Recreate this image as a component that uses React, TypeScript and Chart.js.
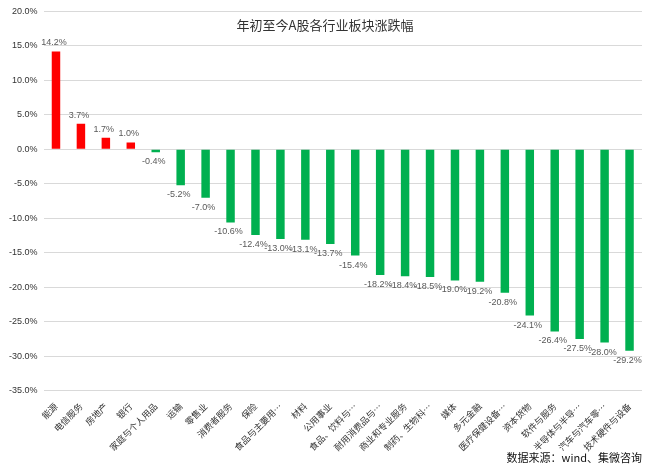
import React, { useEffect, useRef } from "react";
import { Chart, registerables } from "chart.js";

Chart.register(...registerables);

const categories = [
  "能源", "电信服务", "房地产", "银行", "家庭与个人用品", "运输", "零售业", "消费者服务", "保险",
  "食品与主要用…", "材料", "公用事业", "食品、饮料与…", "耐用消费品与…", "商业和专业服务",
  "制药、生物科…", "媒体", "多元金融", "医疗保健设备…", "资本货物", "软件与服务",
  "半导体与半导…", "汽车与汽车零…", "技术硬件与设备",
];
const values = [
  14.2, 3.7, 1.7, 1.0, -0.4, -5.2, -7.0, -10.6, -12.4, -13.0, -13.1, -13.7, -15.4,
  -18.2, -18.4, -18.5, -19.0, -19.2, -20.8, -24.1, -26.4, -27.5, -28.0, -29.2,
];
const titleText = "年初至今A股各行业板块涨跌幅";
const sourceText = "数据来源：wind、集微咨询";

const labelPlugin = {
  id: "valueLabels",
  afterDatasetsDraw(chart: any) {
    const ctx = chart.ctx;
    const meta = chart.getDatasetMeta(0);
    ctx.save();
    ctx.font = "9px 'Liberation Sans', Arial, sans-serif";
    ctx.fillStyle = "#595959";
    ctx.textAlign = "center";
    meta.data.forEach((bar: any, i: number) => {
      const v = values[i];
      const txt = v.toFixed(1) + "%";
      if (v >= 0) {
        ctx.textBaseline = "bottom";
        ctx.fillText(txt, bar.x - 2, bar.y - 4);
      } else {
        ctx.textBaseline = "top";
        ctx.fillText(txt, bar.x - 2, bar.y + 5);
      }
    });
    ctx.restore();
  },
  afterDraw(chart: any) {
    const ctx = chart.ctx;
    const area = chart.chartArea;
    ctx.save();
    ctx.font = "13px 'Noto Sans CJK SC', sans-serif";
    ctx.fillStyle = "#333333";
    ctx.textAlign = "center";
    ctx.textBaseline = "middle";
    ctx.fillText(titleText, chart.width / 2, area.top + 14);
    ctx.font = "11px 'Noto Sans CJK SC', serif";
    ctx.fillStyle = "#111111";
    ctx.textAlign = "right";
    ctx.textBaseline = "bottom";
    ctx.fillText(sourceText, area.right, chart.height - 3);
    ctx.restore();
  },
};

export default function App() {
  const ref = useRef<HTMLCanvasElement | null>(null);
  useEffect(() => {
    if (!ref.current) return;
    const chart = new Chart(ref.current, {
      type: "bar",
      data: {
        labels: categories,
        datasets: [
          {
            data: values,
            backgroundColor: values.map((v) => (v >= 0 ? "#FF0000" : "#00B050")),
            barPercentage: 0.34,
            categoryPercentage: 1,
          },
        ],
      },
      options: {
        animation: false,
        responsive: true,
        maintainAspectRatio: false,
        layout: { padding: { top: 6, right: 8, bottom: 11, left: 3 } },
        plugins: {
          legend: { display: false },
          title: { display: false },
          tooltip: { enabled: false },
        },
        scales: {
          x: {
            grid: { display: false },
            border: { display: false },
            ticks: {
              autoSkip: false,
              maxRotation: 45,
              minRotation: 45,
              color: "#333333",
              padding: 2,
              font: { family: "'Noto Sans CJK SC', sans-serif", size: 9 },
            },
          },
          y: {
            min: -35,
            max: 20,
            border: { display: false },
            grid: { color: "#D9D9D9", lineWidth: 1, drawTicks: false },
            ticks: {
              stepSize: 5,
              padding: 6,
              color: "#333333",
              font: { family: "'Liberation Sans', Arial, sans-serif", size: 9 },
              callback: (v: any) => Number(v).toFixed(1) + "%",
            },
          },
        },
      },
      plugins: [labelPlugin],
    });
    return () => chart.destroy();
  }, []);
  return (
    <div style={{ position: "absolute", left: 0, top: 0, width: 650, height: 466, background: "#fff" }}>
      <canvas ref={ref} />
    </div>
  );
}
